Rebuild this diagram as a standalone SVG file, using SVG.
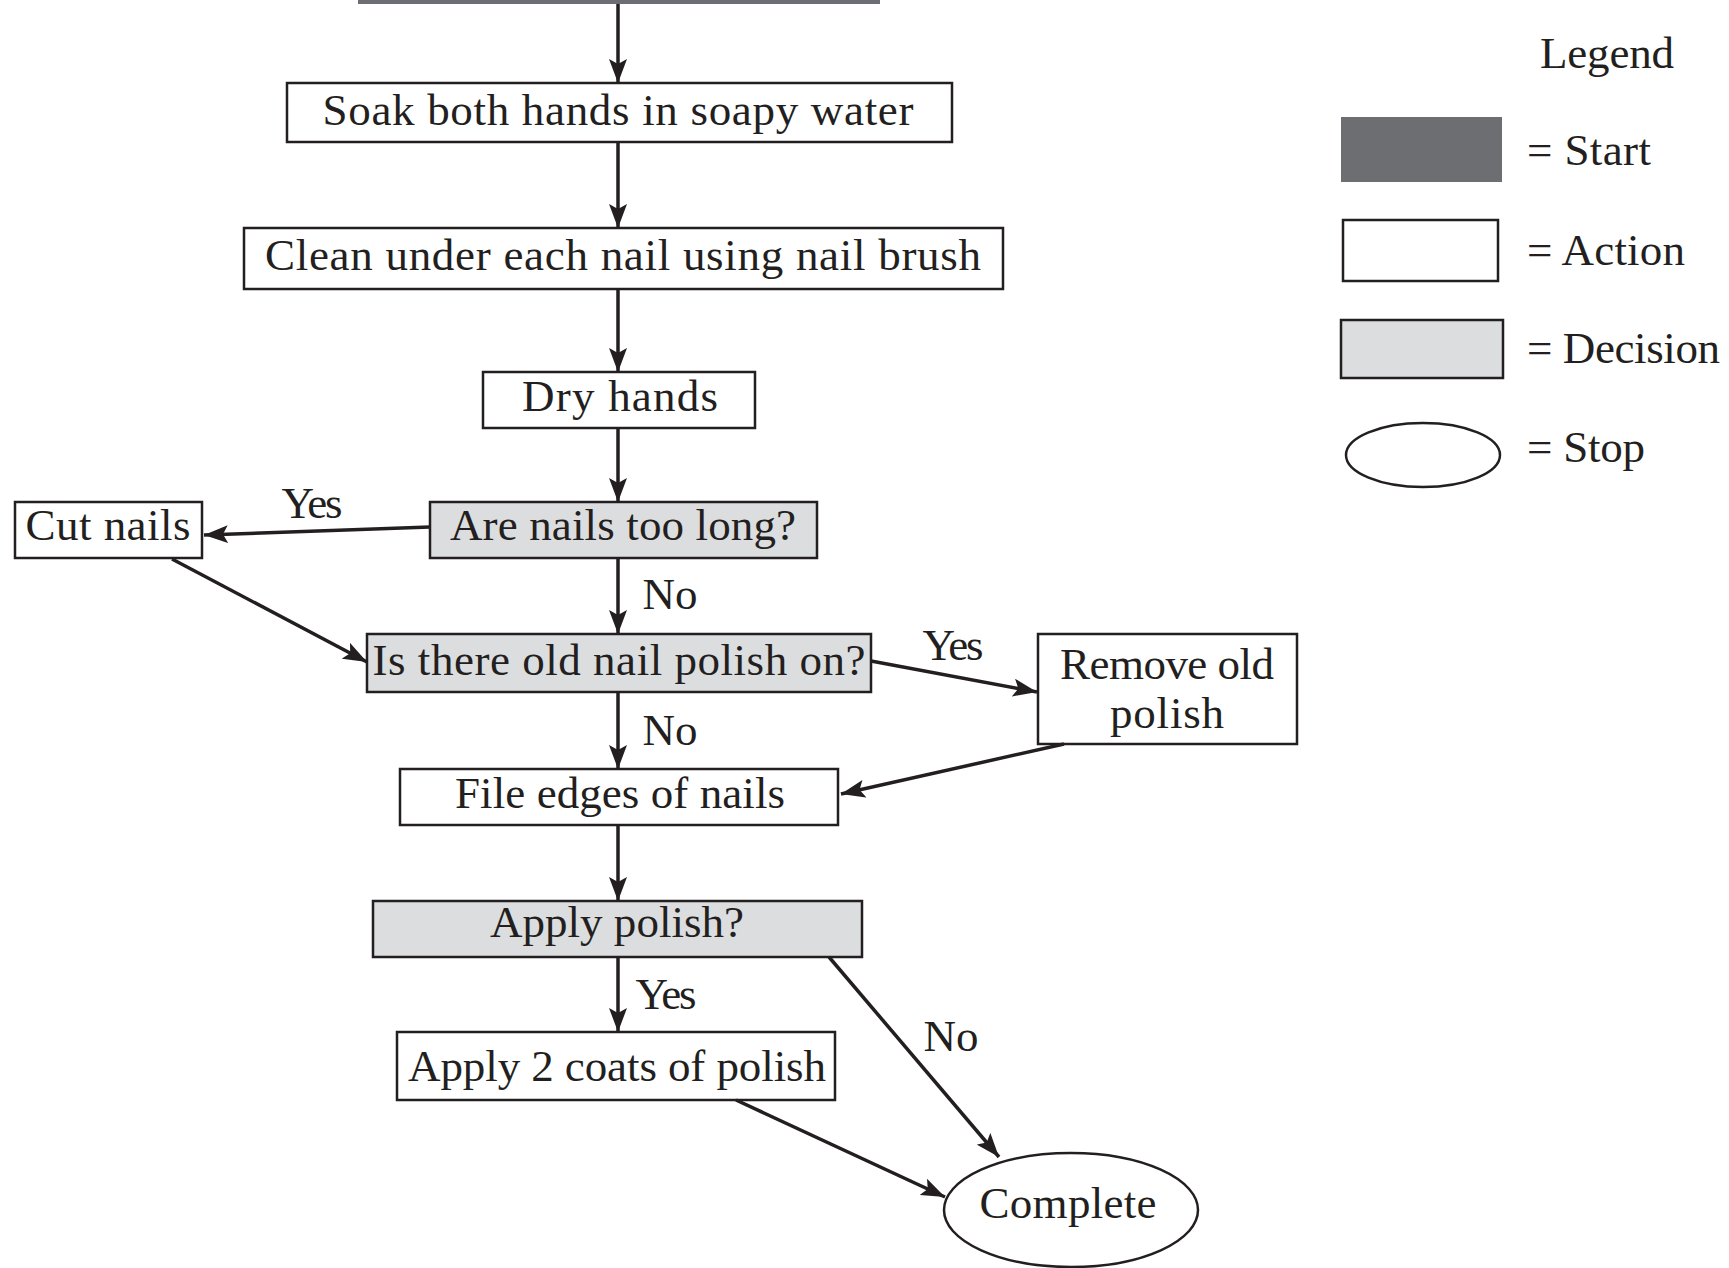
<svg xmlns="http://www.w3.org/2000/svg" width="1729" height="1268" viewBox="0 0 1729 1268">
<style>
text{font-family:"Liberation Serif","Times New Roman",serif;font-size:45px;fill:#231f20;text-anchor:middle}
.act{fill:#fff;stroke:#231f20;stroke-width:2.5}
.dec{fill:#dcdddf;stroke:#231f20;stroke-width:2.5}
.start{fill:#6d6e71}
.stop{fill:#fff;stroke:#231f20;stroke-width:2.5}
.lnk{fill:none;stroke:#231f20;stroke-width:3.5;marker-end:url(#ah)}
.lg{text-anchor:start}
</style>
<defs>
<marker id="ah" markerUnits="userSpaceOnUse" markerWidth="26" markerHeight="18" refX="24" refY="9" orient="auto">
<path d="M0,0 L24,9 L0,18 L5,9 z" fill="#231f20"/>
</marker>
</defs>
<rect width="1729" height="1268" fill="#fff"/>
<g id="start"><rect class="start" x="358" y="-10" width="522" height="14"/></g>
<g id="soak"><rect class="act" x="287" y="83" width="665" height="59"/><text x="618" y="125" textLength="591">Soak both hands in soapy water</text></g>
<g id="clean"><rect class="act" x="244" y="228" width="759" height="61"/><text x="623" y="270" textLength="716">Clean under each nail using nail brush</text></g>
<g id="dry"><rect class="act" x="483" y="372" width="272" height="56"/><text x="620" y="411" textLength="196">Dry hands</text></g>
<g id="long"><rect class="dec" x="430" y="502" width="387" height="56"/><text x="623" y="540" textLength="346">Are nails too long?</text></g>
<g id="cut"><rect class="act" x="15" y="502" width="187" height="56"/><text x="108" y="540" textLength="165">Cut nails</text></g>
<g id="old"><rect class="dec" x="367" y="634" width="504" height="58"/><text x="619" y="675" textLength="493">Is there old nail polish on?</text></g>
<g id="remove"><rect class="act" x="1038" y="634" width="259" height="110"/><text x="1167" y="679" textLength="214">Remove old</text><text x="1167" y="728" textLength="114">polish</text></g>
<g id="file"><rect class="act" x="400" y="769" width="438" height="56"/><text x="620" y="808" textLength="330">File edges of nails</text></g>
<g id="apply"><rect class="dec" x="373" y="901" width="489" height="56"/><text x="617" y="937" textLength="254">Apply polish?</text></g>
<g id="coats"><rect class="act" x="397" y="1032" width="438" height="68"/><text x="617" y="1081" textLength="418">Apply 2 coats of polish</text></g>
<g id="complete"><ellipse class="stop" cx="1071" cy="1210" rx="127" ry="57"/><text x="1068" y="1218" textLength="177">Complete</text></g>
<g id="connectors">
<path class="lnk" d="M618,4 L618,83"/>
<path class="lnk" d="M618,142 L618,228"/>
<path class="lnk" d="M618,289 L618,372"/>
<path class="lnk" d="M618,428 L618,502"/>
<path class="lnk" d="M430,527 L204,535"/>
<path class="lnk" d="M618,558 L618,634"/>
<path class="lnk" d="M172,559 L367,662"/>
<path class="lnk" d="M871,661 L1037,692"/>
<path class="lnk" d="M618,692 L618,769"/>
<path class="lnk" d="M1064,744 L841,794"/>
<path class="lnk" d="M618,825 L618,901"/>
<path class="lnk" d="M618,957 L618,1032"/>
<path class="lnk" d="M829,957 L999,1157"/>
<path class="lnk" d="M736,1100 L945,1197"/>
<text x="312" y="518" textLength="61">Yes</text>
<text x="670" y="609" textLength="55">No</text>
<text x="953" y="660" textLength="61">Yes</text>
<text x="670" y="745" textLength="55">No</text>
<text x="666" y="1009" textLength="61">Yes</text>
<text x="951" y="1051" textLength="55">No</text>
</g>
<g id="legend">
<text x="1607" y="68" textLength="134">Legend</text>
<rect class="start" x="1341" y="117" width="161" height="65"/>
<text class="lg" x="1527" y="165" textLength="124">= Start</text>
<rect class="act" x="1343" y="220" width="155" height="61"/>
<text class="lg" x="1527" y="265" textLength="158">= Action</text>
<rect class="dec" x="1341" y="320" width="162" height="58"/>
<text class="lg" x="1527" y="363" textLength="193">= Decision</text>
<ellipse class="stop" cx="1423" cy="455" rx="77" ry="32"/>
<text class="lg" x="1527" y="462" textLength="118">= Stop</text>
</g>
</svg>
